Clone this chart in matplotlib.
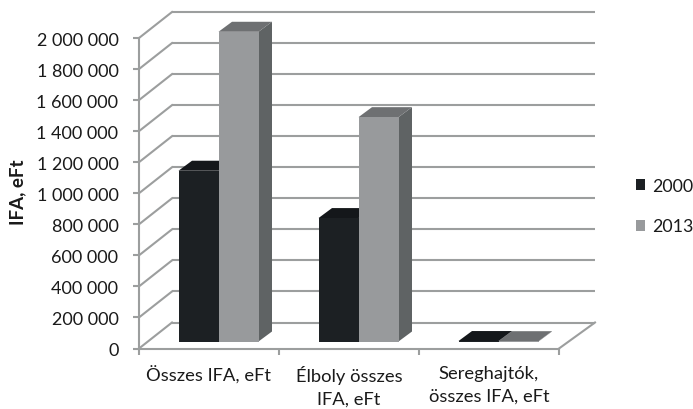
import matplotlib
matplotlib.use("Agg")
import matplotlib.pyplot as plt
from matplotlib.patches import Polygon, Patch
from matplotlib.transforms import Affine2D

plt.rcParams['font.family'] = ['Lato', 'DejaVu Sans']

categories = ["Összes IFA, eFt", "Élboly összes\nIFA, eFt", "Sereghajtók,\nösszes IFA, eFt"]
series_names = ["2000", "2013"]
values_2000 = [1100000, 795000, 3000]
values_2013 = [1995000, 1445000, 2000]
y_ticks = [0, 200000, 400000, 600000, 800000, 1000000, 1200000, 1400000, 1600000, 1800000, 2000000]
y_labels = ["0", "200 000", "400 000", "600 000", "800 000", "1 000 000",
            "1 200 000", "1 400 000", "1 600 000", "1 800 000", "2 000 000"]

W, H = 693, 410
fig = plt.figure(figsize=(W / 100, H / 100), dpi=100)
L, R, T, B = 139, 559, 39, 349.5
ax = fig.add_axes([L / W, 1 - B / H, (R - L) / W, (B - T) / H])
ax.set_xlim(0, 3)
ax.set_ylim(0, 2000000)

GRID = "#9c9e9e"
TXT = "#1a1a1a"
LW = 1.5


def tr(dx, dy):
    return ax.transData + Affine2D().translate(dx, dy)


WALL_DX, WALL_DY = 33, 26
XR = 3 + 3 / 140
back = tr(WALL_DX, WALL_DY)
inv = ax.transData.inverted()
for v in y_ticks:
    ax.plot([0, XR], [v, v], color=GRID, lw=LW, transform=back, clip_on=False, zorder=1,
            solid_capstyle="butt")
    disp0 = ax.transData.transform((0, v))
    p1 = inv.transform((disp0[0] + WALL_DX, disp0[1] + WALL_DY))
    ax.plot([0, p1[0]], [v, p1[1]], color=GRID, lw=LW, clip_on=False, zorder=1)

d3 = ax.transData.transform((3, 0))
p3 = inv.transform((d3[0] + WALL_DX + 3, d3[1] + WALL_DY))
ax.plot([3, p3[0]], [0, p3[1]], color=GRID, lw=LW, clip_on=False, zorder=1)

BAR_W = 40 / 140
FRONT_DX, FRONT_DY = 9.5, 7
SIDE_DX, SIDE_DY = 13.5, 10


def bar3d(x0, value, front, top, side):
    x1 = x0 + BAR_W
    t0 = tr(FRONT_DX, FRONT_DY)
    d = ax.transData.transform
    to_data = ax.transData.inverted().transform
    a, b, c = d((x1, 0)), d((x1, value)), d((x0, value))
    off = (SIDE_DX, SIDE_DY)
    side_poly = [(x1, 0), (x1, value), to_data(b + off), to_data(a + off)]
    top_poly = [(x0, value), (x1, value), to_data(b + off), to_data(c + off)]
    ax.add_patch(Polygon(side_poly, closed=True, fc=side, ec="none", transform=t0, clip_on=False, zorder=3))
    ax.add_patch(Polygon(top_poly, closed=True, fc=top, ec="none", transform=t0, clip_on=False, zorder=3))
    ax.add_patch(Polygon([(x0, 0), (x1, 0), (x1, value), (x0, value)], closed=True, fc=front, ec="none",
                         transform=t0, clip_on=False, zorder=3))


for i in range(len(categories)):
    c = i + 0.5
    bar3d(c - BAR_W, values_2000[i], "#1c2023", "#14171a", "#101214")
    bar3d(c, values_2013[i], "#989a9c", "#6e7072", "#5f6364")

for s in ("top", "right"):
    ax.spines[s].set_visible(False)
for s in ("left", "bottom"):
    ax.spines[s].set_color(GRID)
    ax.spines[s].set_linewidth(LW)
    ax.spines[s].set_zorder(4)

ax.set_yticks(y_ticks)
ax.set_yticklabels(y_labels, fontsize=13, color=TXT)
ax.set_xticks([0, 1, 2, 3])
ax.set_xticklabels([])
ax.set_xticks([0.5, 1.5, 2.5], minor=True)
ax.set_xticklabels(categories, minor=True, fontsize=13.2, color=TXT, linespacing=1.5, va="top")
ax.tick_params(axis="x", which="minor", length=0, pad=12)
ax.tick_params(axis="both", which="major", length=4.3, width=LW, color=GRID)
ax.tick_params(axis="y", pad=10.5)
ax.set_ylabel("IFA, eFt", fontsize=13.5, fontweight="bold", color=TXT)
ax.yaxis.set_label_coords((26 - L) / (R - L), (B - 192) / (B - T))

handles = [Patch(fc="#1c2023", ec="none"), Patch(fc="#989a9c", ec="none")]
fig.legend(handles, series_names, loc="center left", bbox_to_anchor=(632 / W, 1 - 207 / H),
           frameon=False, fontsize=12.8, handlelength=0.55, handleheight=0.55, handletextpad=0.4,
           labelspacing=1.4, labelcolor=TXT, borderpad=0.2, borderaxespad=0)

fig.savefig("out.png", dpi=100, facecolor="white")
